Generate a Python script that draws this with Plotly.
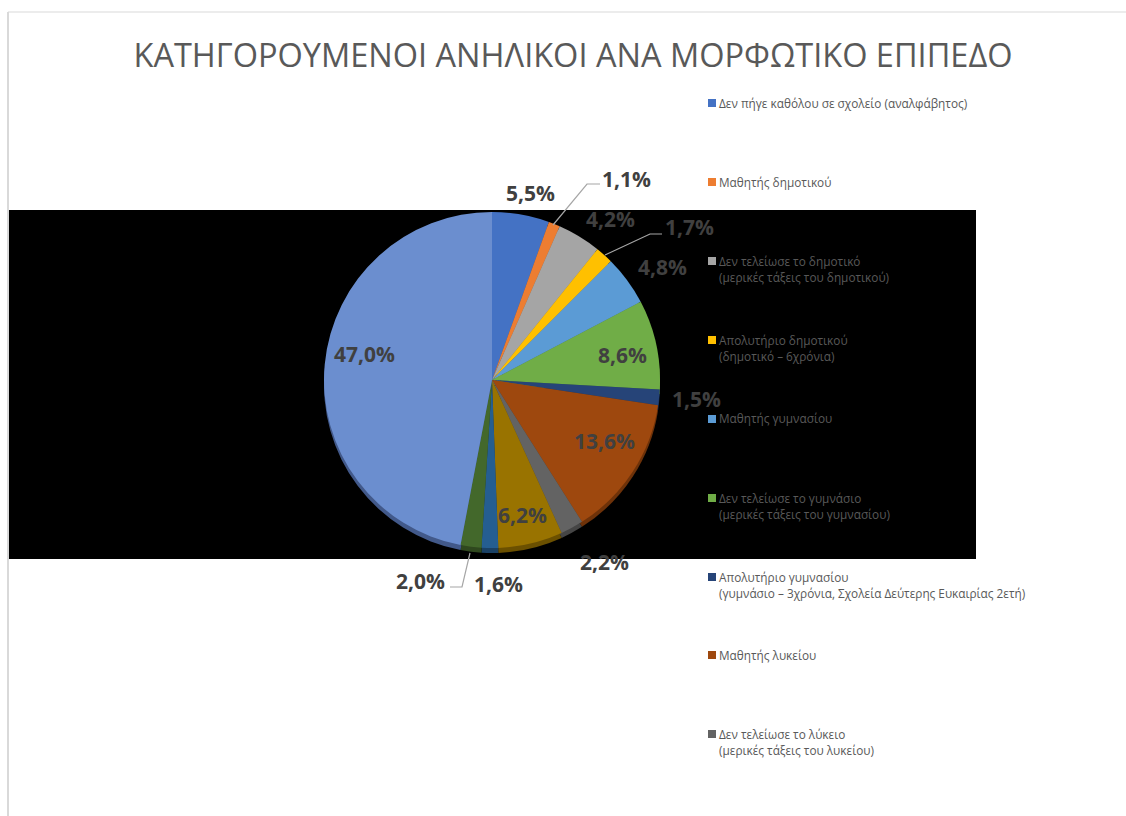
import plotly.graph_objects as go

W, H = 1126, 816

title = "ΚΑΤΗΓΟΡΟΥΜΕΝΟΙ ΑΝΗΛΙΚΟΙ ΑΝΑ ΜΟΡΦΩΤΙΚΟ ΕΠΙΠΕΔΟ"
categories = [
    "Δεν πήγε καθόλου σε σχολείο (αναλφάβητος)",
    "Μαθητής δημοτικού",
    "Δεν τελείωσε το δημοτικό (μερικές τάξεις του δημοτικού)",
    "Απολυτήριο δημοτικού (δημοτικό – 6χρόνια)",
    "Μαθητής γυμνασίου",
    "Δεν τελείωσε το γυμνάσιο (μερικές τάξεις του γυμνασίου)",
    "Απολυτήριο γυμνασίου (γυμνάσιο – 3χρόνια, Σχολεία Δεύτερης Ευκαιρίας 2ετή)",
    "Μαθητής λυκείου",
    "Δεν τελείωσε το λύκειο (μερικές τάξεις του λυκείου)",
    "Κατηγορία 10",
    "Κατηγορία 11",
    "Κατηγορία 12",
    "Κατηγορία 13",
]
values = [5.5, 1.1, 4.2, 1.7, 4.8, 8.6, 1.5, 13.6, 2.2, 6.2, 1.6, 2.0, 47.0]
colors = ["#4472C4", "#ED7D31", "#A5A5A5", "#FFC000", "#5B9BD5", "#70AD47", "#264478",
          "#9E480E", "#636363", "#997300", "#255E91", "#43682B", "#6B8ECF"]
shadow_colors = ["#2F4F88", "#A55722", "#737373", "#B28600", "#3F6C94", "#4E7931", "#1A2F54",
                 "#6E3209", "#454545", "#6B5000", "#1A4165", "#2F481E", "#42598A"]

legend_lines = [
    ["Δεν πήγε καθόλου σε σχολείο (αναλφάβητος)"],
    ["Μαθητής δημοτικού"],
    ["Δεν τελείωσε το δημοτικό", "(μερικές τάξεις του δημοτικού)"],
    ["Απολυτήριο δημοτικού", "(δημοτικό – 6χρόνια)"],
    ["Μαθητής γυμνασίου"],
    ["Δεν τελείωσε το γυμνάσιο", "(μερικές τάξεις του γυμνασίου)"],
    ["Απολυτήριο γυμνασίου", "(γυμνάσιο – 3χρόνια, Σχολεία Δεύτερης Ευκαιρίας 2ετή)"],
    ["Μαθητής λυκείου"],
    ["Δεν τελείωσε το λύκειο", "(μερικές τάξεις του λυκείου)"],
]

# layout (pixels in the 1126x816 page)
legend_y = [103, 182, 261, 340, 419, 498, 577, 655, 734]
label_xy = [(530, 193), (626, 179), (610, 219), (689, 227), (662, 267), (622, 355), (696, 399),
            (604, 441), (604, 562), (522, 515), (498, 584), (420, 581), (364, 354)]
leaders = [[(553, 225), (587, 184), (600, 184)],
           [(605, 255), (650, 234), (662, 234)],
           [(470, 553), (462, 587), (450, 587)]]
FONT = "Open Sans, Noto Sans, sans-serif"
cx, cy, r = 492, 380, 168


def px(x):
    return x / W


def py(y):
    return 1 - y / H


def path(points):
    return "M " + " L ".join(f"{px(x)} {py(y)}" for x, y in points)


def pie_domain(dy=0):
    return dict(x=[px(cx - r), px(cx + r)], y=[py(cy + dy + r), py(cy + dy - r)])


fig = go.Figure()
fig.add_trace(go.Pie(labels=categories, values=values, sort=False, direction="clockwise", rotation=0,
                     marker=dict(colors=shadow_colors, line=dict(width=0)),
                     textinfo="none", hoverinfo="skip", domain=pie_domain(5), showlegend=False))
fig.add_trace(go.Pie(labels=categories, values=values, sort=False, direction="clockwise", rotation=0,
                     marker=dict(colors=colors, line=dict(width=0)),
                     textinfo="none", domain=pie_domain(), showlegend=False))

shapes = [
    dict(type="rect", xref="paper", yref="paper", x0=px(9), x1=px(976), y0=py(559), y1=py(210),
         fillcolor="#000000", line=dict(width=0), layer="below"),
    dict(type="line", xref="paper", yref="paper", x0=px(8), x1=px(8), y0=py(816), y1=py(12),
         line=dict(color="#D9D9D9", width=2), layer="below"),
    dict(type="line", xref="paper", yref="paper", x0=px(8), x1=px(1126), y0=py(12), y1=py(12),
         line=dict(color="#D9D9D9", width=1), layer="below"),
]
for pts in leaders:
    shapes.append(dict(type="path", xref="paper", yref="paper", path=path(pts),
                       line=dict(color="#A6A6A6", width=1.2), layer="above"))

annotations = []
for v, (x, y) in zip(values, label_xy):
    annotations.append(dict(text=f"<b>{v:.1f}%</b>".replace(".", ","), x=px(x), y=py(y),
                            xref="paper", yref="paper", xanchor="center", yanchor="middle",
                            showarrow=False, font=dict(family=FONT, size=21, color="#404040")))
for i, (lines, y) in enumerate(zip(legend_lines, legend_y)):
    shapes.append(dict(type="rect", xref="paper", yref="paper", x0=px(708), x1=px(716),
                       y0=py(y + 4), y1=py(y - 4), fillcolor=colors[i], line=dict(width=0), layer="above"))
    for j, line in enumerate(lines):
        annotations.append(dict(text=line, x=px(717), y=py(y - 0.5 + j * 16), xref="paper", yref="paper",
                                xanchor="left", yanchor="middle", showarrow=False,
                                font=dict(family=FONT, size=11.8, color="#595959")))

fig.update_layout(
    width=W, height=H, autosize=False,
    margin=dict(l=0, r=0, t=0, b=0),
    paper_bgcolor="#FFFFFF", plot_bgcolor="#FFFFFF",
    showlegend=False,
    title=dict(text=title, x=px(573), y=py(56), xref="paper", yref="paper",
               xanchor="center", yanchor="middle",
               font=dict(family=FONT, size=32.5, color="#595959")),
    shapes=shapes, annotations=annotations,
)
fig.write_html("out.html", config={"displayModeBar": False},
               post_script="document.body.style.margin='0';document.body.style.overflow='hidden';")
